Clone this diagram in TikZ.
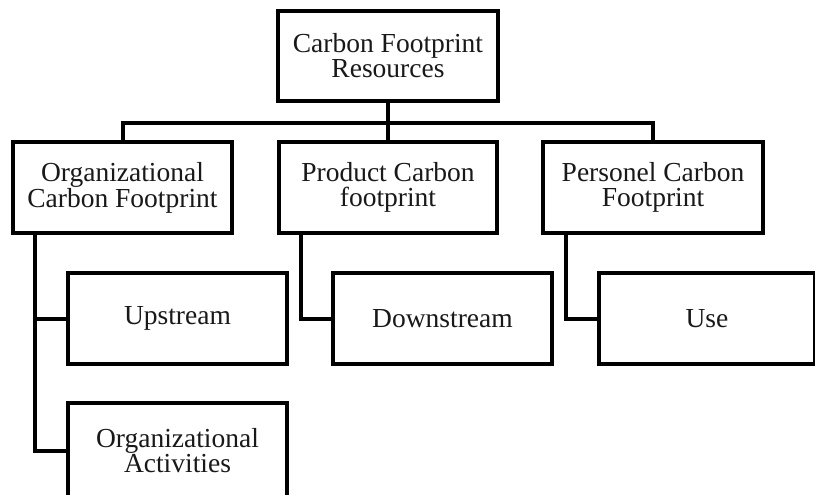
\documentclass[tikz,border=0pt]{standalone}
\usepackage{fontspec}
\setmainfont{Liberation Serif}
\begin{document}
\begin{tikzpicture}[x=1pt,y=-1pt,
  box/.style={draw=black, line width=4.5pt, outer sep=0pt, inner sep=0pt, align=center,
    font=\fontsize{27.5}{25}\selectfont, text=black!90, fill=white},
  link/.style={draw=black, line width=4pt}]
\useasboundingbox (0,0) rectangle (815,495);
% connectors first
\coordinate (bl) at (123,123);
\coordinate (br) at (653,123);
\node[box, minimum width=220pt, minimum height=90pt] (top) at (388,56) {Carbon Footprint\\Resources};
\node[box, minimum width=219pt, minimum height=91pt] (org) at (122.5,187.5) {Organizational\\Carbon Footprint};
\node[box, minimum width=218pt, minimum height=91pt] (prod) at (388,187.5) {Product Carbon\\footprint};
\node[box, minimum width=220pt, minimum height=91pt] (pers) at (653,187.5) {Personel Carbon\\Footprint};
\node[box, minimum width=219pt, minimum height=91pt] (up) at (177.5,318.5) {Upstream};
\node[box, minimum width=219pt, minimum height=91pt] (down) at (442.5,318.5) {Downstream};
\node[box, minimum width=216pt, minimum height=91pt] (use) at (707,318.5) {Use};
\node[box, minimum width=219pt, minimum height=96pt] (act) at (177.5,451) {Organizational\\Activities};
\begin{scope}[on background layer/.try]
\end{scope}
\draw[link] (top.south) -- (prod.north);
\draw[link] (org.north) |- (bl) -- (br) -| (pers.north);
\coordinate (ot) at ([xshift=22pt]org.south west);
\coordinate (pt) at ([xshift=22pt]prod.south west);
\coordinate (st) at ([xshift=23pt]pers.south west);
\draw[link] (ot) |- (up.west);
\draw[link] (ot) |- (act.west);
\draw[link] (pt) |- (down.west);
\draw[link] (st) |- (use.west);
\end{tikzpicture}
\end{document}
